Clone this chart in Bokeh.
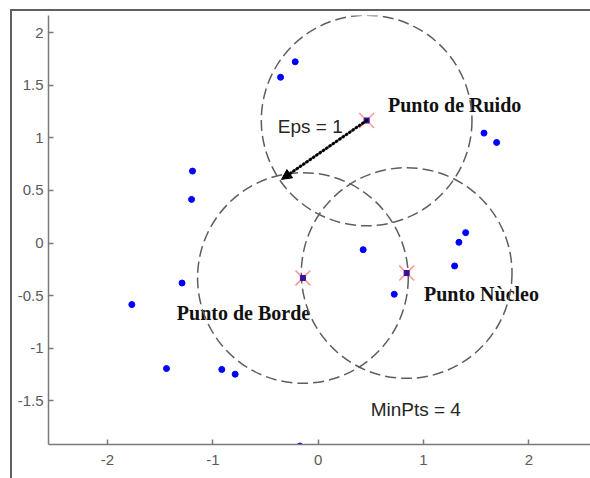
from bokeh.plotting import figure
from bokeh.layouts import column
from bokeh.models import (Range1d, FixedTicker, CustomJSTickFormatter, Arrow,
                          NormalHead)
from bokeh.core.properties import value
from bokeh.embed import file_html
from bokeh.resources import INLINE

# ordinary sample points
pts_x = [-1.193, -1.202, -1.292, -1.769, -1.440, -0.915, -0.788, -0.218, -0.357,
         0.427, 1.400, 1.336, 1.295, 0.722, 1.574, 1.694, -0.174]
pts_y = [0.684, 0.415, -0.380, -0.585, -1.193, -1.202, -1.247, 1.723, 1.576,
         -0.063, 0.099, 0.007, -0.218, -0.487, 1.045, 0.956, -1.930]

# highlighted points: noise, border, core
key_names = ["Punto de Ruido", "Punto de Borde", "Punto Nùcleo"]
key_x = [0.460, -0.145, 0.840]
key_y = [1.165, -0.332, -0.285]

# DBSCAN parameters
eps = 1
min_pts = 4

# end of the radius arrow drawn from the noise point
arrow_tip_x = [-0.348]
arrow_tip_y = [0.605]

x_ticks = [-2, -1, 0, 1, 2]
y_ticks = [-1.5, -1, -0.5, 0, 0.5, 1, 1.5, 2]

p = figure(width=578, height=467,
           x_range=Range1d(-2.56, 2.585), y_range=Range1d(-1.915, 2.163),
           output_backend="svg", toolbar_location=None,
           min_border_left=36, min_border_right=0,
           min_border_top=4, min_border_bottom=34)
p.grid.visible = False
p.outline_line_color = None
p.background_fill_color = "white"
p.border_fill_color = "white"

fmt = CustomJSTickFormatter(code="return tick.toString();")
for ax, ticks in ((p.xaxis[0], x_ticks), (p.yaxis[0], y_ticks)):
    ax.ticker = FixedTicker(ticks=ticks)
    ax.formatter = fmt
    ax.axis_line_color = "#7a7a7a"
    ax.axis_line_width = 1.5
    ax.major_tick_line_color = "#7a7a7a"
    ax.major_tick_line_width = 1.5
    ax.major_tick_in = 5
    ax.major_tick_out = 0
    ax.minor_tick_line_color = None
    ax.major_label_text_color = "#5a5a5a"
    ax.major_label_text_font = "Liberation Sans"
    ax.major_label_text_font_size = "15px"
p.xaxis.major_label_standoff = 10
p.yaxis.major_label_standoff = 5

# point-type labels (drawn first so the circles pass over them)
p.text(x=[0.662, -1.342, 1.004], y=[1.308, -0.668, -0.487], text=key_names,
       text_font=value("Liberation Serif"), text_font_style="bold",
       text_font_size="20px", text_baseline="alphabetic", text_align="left",
       text_color="#111111")

p.text(x=[-0.383, 0.498], y=[1.108, -1.58],
       text=[f"Eps = {eps}", f"MinPts = {min_pts}"],
       text_font=value("Liberation Sans"), text_font_size="19px",
       text_baseline="alphabetic", text_align="left", text_color="#262626")

# eps-neighbourhoods
p.circle(x=key_x, y=key_y, radius=eps, fill_color=None,
         line_color="#5e5e5e", line_width=1.5, line_dash="11 5")

# radius arrow
p.add_layout(Arrow(end=NormalHead(size=10, fill_color="black", line_color="black"),
                   x_start=key_x[0], y_start=key_y[0],
                   x_end=arrow_tip_x[0], y_end=arrow_tip_y[0],
                   line_color="black", line_width=3, line_dash="1 3",
                   line_cap="round"))

p.scatter(pts_x, pts_y, size=6, color="#0000ff")
p.scatter(key_x, key_y, marker="x", size=21, line_color="#ff9494", line_width=1.5)
p.scatter(key_x, key_y, marker="square", size=5, color="#3b0fa0")

# outer frame: left and top rules around the plot
page = column(p, styles={"margin-left": "10px", "margin-top": "9px",
                         "border-left": "2px solid #606060",
                         "border-top": "2px solid #606060"})

open("out.html", "w").write(file_html(page, INLINE))
